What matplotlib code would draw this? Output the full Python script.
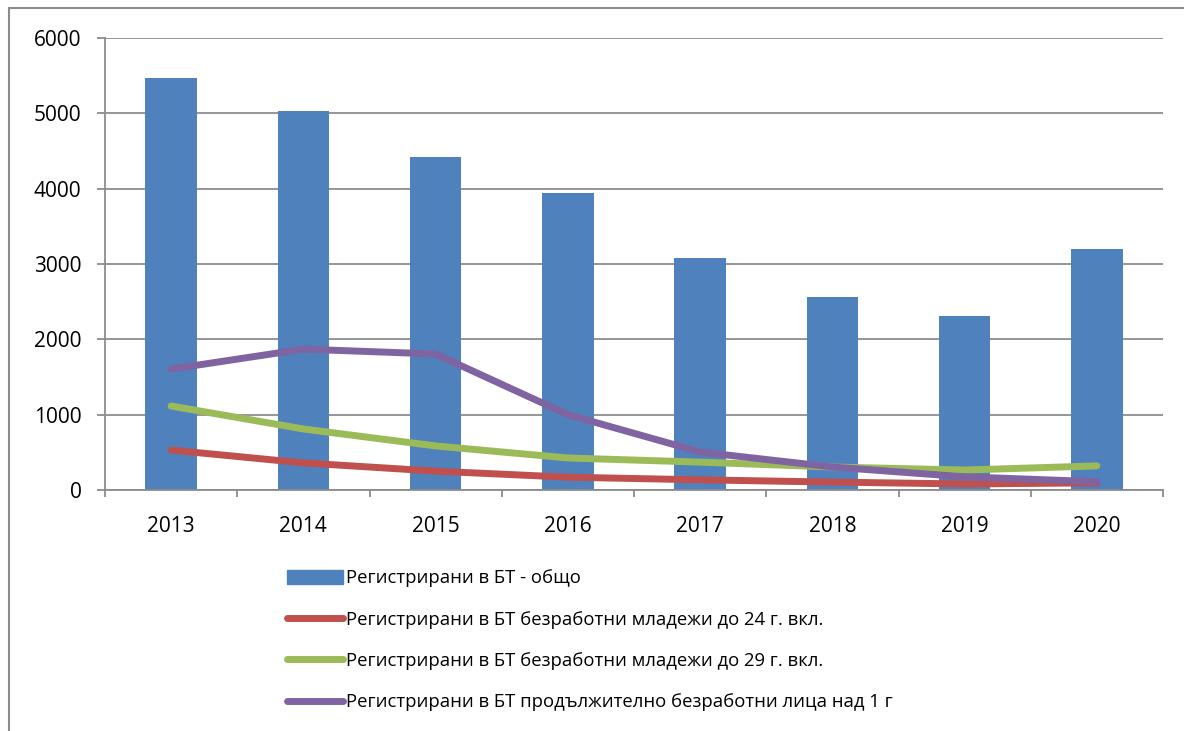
import numpy as np
import matplotlib.pyplot as plt
from matplotlib.lines import Line2D
from matplotlib.patches import Patch

years = ["2013", "2014", "2015", "2016", "2017", "2018", "2019", "2020"]
total = [5470, 5030, 4420, 3945, 3080, 2560, 2310, 3200]
youth_24 = [530, 360, 250, 170, 135, 105, 80, 95]
youth_29 = [1115, 810, 585, 425, 370, 305, 265, 320]
long_term = [1605, 1870, 1805, 1000, 505, 305, 175, 110]

labels = [
    "Регистрирани в БТ - общо",
    "Регистрирани в БТ безработни младежи до 24 г. вкл.",
    "Регистрирани в БТ безработни младежи до 29 г. вкл.",
    "Регистрирани в БТ продължително безработни лица над 1 г",
]
bar_color = "#4F81BD"
line_colors = ["#C0504D", "#9BBB59", "#8064A2"]

plt.rcParams["font.family"] = ["Open Sans", "DejaVu Sans"]

W, H = 1184, 731
fig = plt.figure(figsize=(W / 100, H / 100), dpi=100)
ax = fig.add_axes([105 / W, 1 - 490 / H, (1163 - 105) / W, (490 - 38) / H])

x = np.arange(len(years))
ax.bar(x, total, width=0.39, color=bar_color, zorder=2)
for vals, col in zip([youth_24, youth_29, long_term], line_colors):
    ax.plot(x, vals, color=col, lw=5, solid_capstyle="round",
            solid_joinstyle="round", zorder=3)

ax.set_xlim(-0.5, len(years) - 0.5)
ax.set_ylim(0, 6000)
ax.set_yticks(np.arange(0, 6001, 1000))
ax.yaxis.grid(True, color="#8C8C8C", lw=1.3, zorder=0)
ax.set_axisbelow(True)

ax.set_xticks(x)
ax.set_xticklabels(years)
ax.set_xticks(np.arange(-0.5, len(years)), minor=True)
ax.tick_params(axis="x", which="major", length=0, pad=19, labelsize=15)
ax.tick_params(axis="x", which="minor", length=5, width=1.3, color="#8C8C8C")
ax.tick_params(axis="y", length=6, width=1.3, color="#8C8C8C", pad=11, labelsize=15)

for side in ["top", "right"]:
    ax.spines[side].set_visible(False)
for side in ["left", "bottom"]:
    ax.spines[side].set_color("#8C8C8C")
    ax.spines[side].set_linewidth(1.3)

handles = [Patch(color=bar_color)] + [
    Line2D([], [], color=c, lw=5, solid_capstyle="round") for c in line_colors
]
fig.legend(handles, labels, loc="upper left", bbox_to_anchor=(280 / W, 1 - 562 / H),
           frameon=False, fontsize=13.3, handlelength=3.0, handleheight=0.75,
           handletextpad=0.2, labelspacing=1.26, borderaxespad=0)

# outer chart frame (top and left edges visible)
fig.add_artist(Line2D([9 / W, 1], [1 - 8 / H, 1 - 8 / H], color="#8C8C8C", lw=1.5))
fig.add_artist(Line2D([9 / W, 9 / W], [0, 1 - 8 / H], color="#8C8C8C", lw=1.5))

fig.savefig("out.png", dpi=100)
